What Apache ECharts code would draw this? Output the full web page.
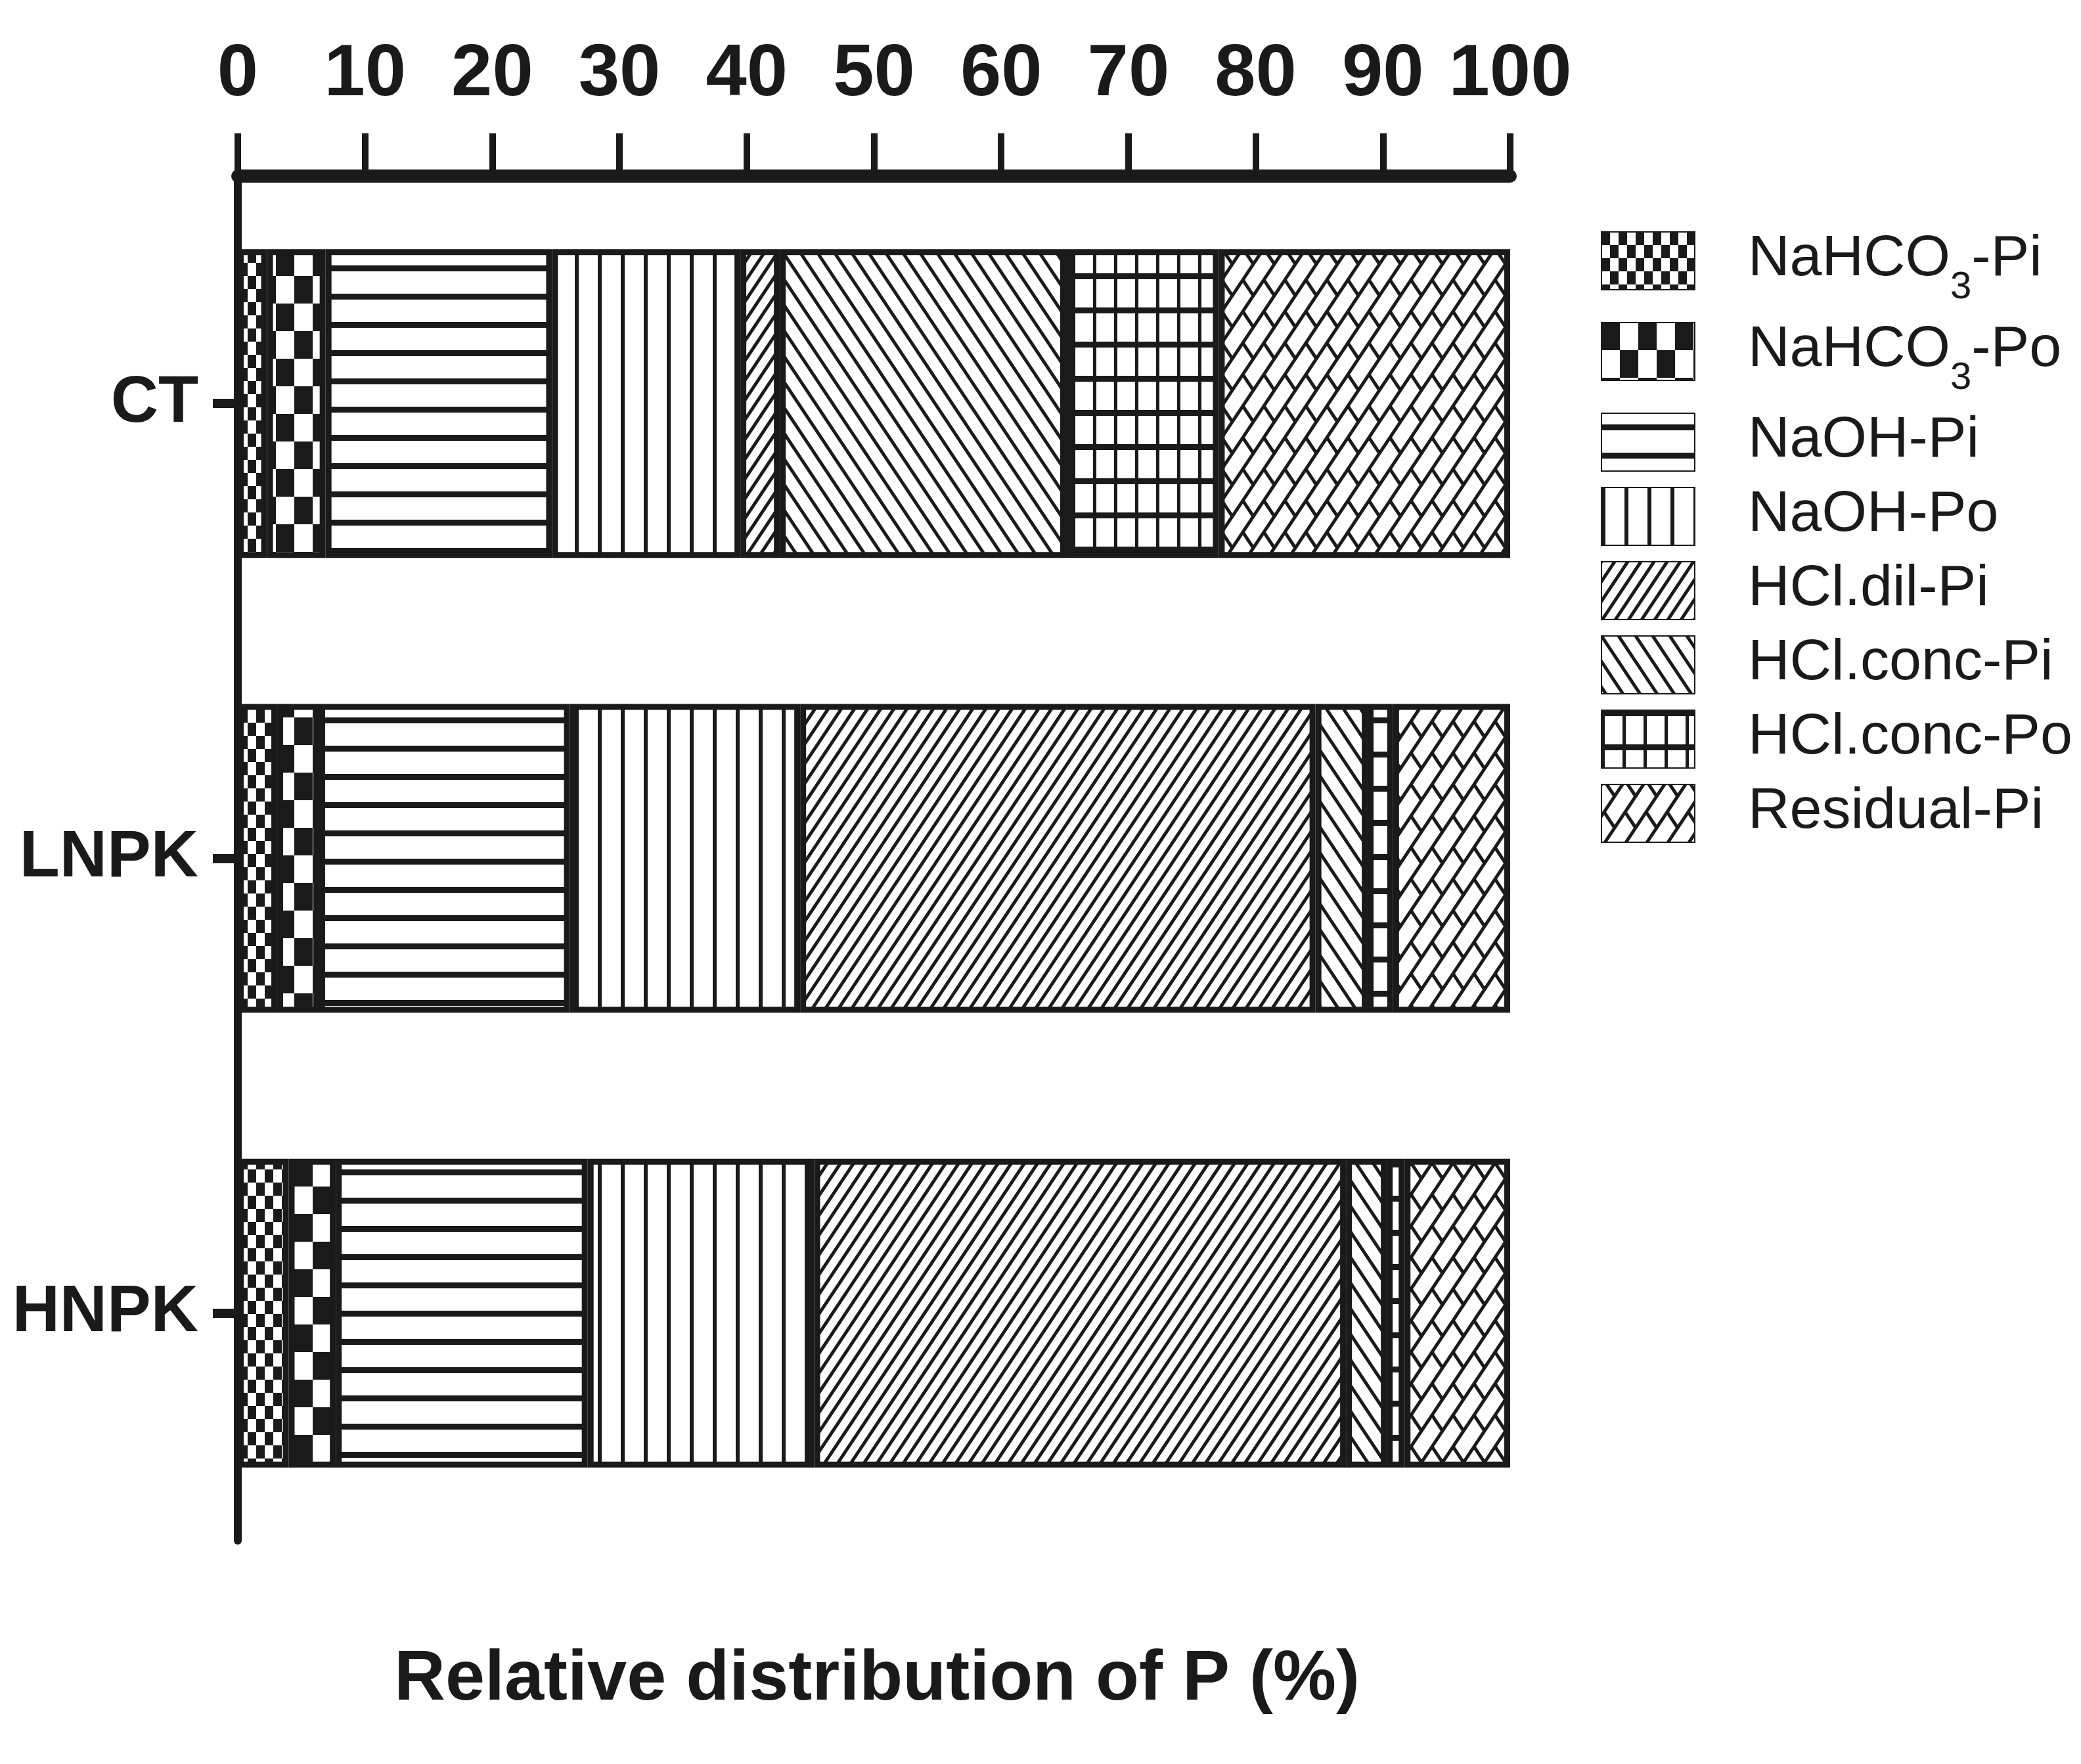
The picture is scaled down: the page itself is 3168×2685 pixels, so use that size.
<!DOCTYPE html>
<html>
<head>
<meta charset="utf-8">
<script src="https://cdn.jsdelivr.net/npm/echarts@6/dist/echarts.min.js"></script>
<style>
  html, body { margin: 0; padding: 0; background: #fff; }
  #main { width: 3168px; height: 2685px; }
</style>
</head>
<body>
<div id="main"></div>
<script>
// categories (top to bottom)
var categories = ['CT', 'LNPK', 'HNPK'];
var xTicks = [0, 10, 20, 30, 40, 50, 60, 70, 80, 90, 100];

// relative distribution of P (%) per fraction, order: CT, LNPK, HNPK
var naHCO3Pi = [2.3, 3.1, 4.0];
var naHCO3Po = [4.6, 3.3, 3.7];
var naOHPi = [17.8, 19.7, 19.8];
var naOHPo = [14.8, 18.1, 17.8];
var hclDilPi = [3.1, 40.5, 41.8];
var hclConcPi = [22.5, 4.1, 3.2];
var hclConcPo = [12.0, 2.0, 1.4];
var residualPi = [22.9, 9.2, 8.3];

var fractionNames = ['NaHCO3-Pi', 'NaHCO3-Po', 'NaOH-Pi', 'NaOH-Po',
    'HCl.dil-Pi', 'HCl.conc-Pi', 'HCl.conc-Po', 'Residual-Pi'];
var fractionData = [naHCO3Pi, naHCO3Po, naOHPi, naOHPo,
    hclDilPi, hclConcPi, hclConcPo, residualPi];

var INK = '#1a1a1a';
var FONT = "'Liberation Sans', Arial, sans-serif";

function pattern(w, h, draw) {
    var c = document.createElement('canvas');
    c.width = w;
    c.height = h;
    var ctx = c.getContext('2d');
    ctx.fillStyle = '#fff';
    ctx.fillRect(0, 0, w, h);
    ctx.fillStyle = INK;
    ctx.strokeStyle = INK;
    draw(ctx, w, h);
    return { image: c, repeat: 'repeat' };
}

function slash(ctx, w, h, lw) {
    ctx.lineWidth = lw;
    for (var k = -1; k <= 1; k++) {
        ctx.beginPath();
        ctx.moveTo(k * w - w, 2 * h);
        ctx.lineTo(k * w + 2 * w, -h);
        ctx.stroke();
    }
}

function backslash(ctx, w, h, lw) {
    ctx.lineWidth = lw;
    for (var k = -1; k <= 1; k++) {
        ctx.beginPath();
        ctx.moveTo(k * w - w, -h);
        ctx.lineTo(k * w + 2 * w, 2 * h);
        ctx.stroke();
    }
}

var patterns = [
    // small checker
    pattern(26, 40, function (ctx) {
        ctx.fillRect(0, 0, 13, 20);
        ctx.fillRect(13, 20, 13, 20);
    }),
    // big checker
    pattern(56, 84, function (ctx) {
        ctx.fillRect(0, 0, 28, 42);
        ctx.fillRect(28, 42, 28, 42);
    }),
    // horizontal lines
    pattern(40, 43, function (ctx) {
        ctx.fillRect(0, 17, 40, 9);
    }),
    // vertical lines
    pattern(35, 40, function (ctx) {
        ctx.fillRect(0, 0, 6, 40);
    }),
    // "/" hatch
    pattern(20, 30, function (ctx, w, h) {
        slash(ctx, w, h, 5);
    }),
    // "\" hatch
    pattern(26, 39, function (ctx, w, h) {
        backslash(ctx, w, h, 5);
    }),
    // grid
    pattern(32, 52, function (ctx) {
        ctx.fillRect(0, 0, 5, 52);
        ctx.fillRect(0, 0, 32, 9);
    }),
    // brick diagonal
    pattern(32, 48, function (ctx, w, h) {
        slash(ctx, w, h, 5);
        ctx.lineWidth = 5;
        for (var dy = -h; dy <= h; dy += h) {
            ctx.beginPath();
            ctx.moveTo(4, 42 + dy);
            ctx.lineTo(20, 66 + dy);
            ctx.stroke();
        }
    })
];

var series = fractionNames.map(function (name, i) {
    return {
        name: name,
        type: 'bar',
        stack: 'total',
        barWidth: 470,
        data: fractionData[i],
        itemStyle: {
            color: patterns[i],
            borderColor: INK,
            borderWidth: 9
        },
        emphasis: { disabled: true }
    };
});

var chart = echarts.init(document.getElementById('main'));
chart.setOption({
    animation: false,
    backgroundColor: '#fff',
    title: {
        text: 'Relative distribution of P (%)',
        left: 1330,
        top: 2498,
        textAlign: 'center',
        textStyle: {
            fontFamily: FONT,
            fontWeight: 'bold',
            fontSize: 108,
            color: INK
        }
    },
    legend: {
        orient: 'vertical',
        left: 2432,
        top: 346,
        icon: 'rect',
        itemWidth: 142,
        itemHeight: 88,
        itemGap: 22,
        selectedMode: false,
        data: fractionNames,
        formatter: function (name) {
            if (name.indexOf('O3') >= 0) {
                var parts = name.split('O3');
                return '{n|' + parts[0] + 'O}{sub|3}{n|' + parts[1] + '}';
            }
            return '{n|' + name + '}';
        },
        textStyle: {
            padding: [0, 0, 0, 76],
            rich: {
                n: {
                    fontFamily: FONT,
                    fontSize: 88,
                    color: INK,
                    lineHeight: 92,
                    verticalAlign: 'top'
                },
                sub: {
                    fontFamily: FONT,
                    fontSize: 58,
                    color: INK,
                    lineHeight: 58,
                    verticalAlign: 'top',
                    padding: [58, 0, 0, 0]
                }
            }
        }
    },
    grid: {
        left: 362,
        right: 869,
        top: 268,
        bottom: 340,
        outerBoundsMode: 'none'
    },
    xAxis: {
        type: 'value',
        position: 'top',
        min: 0,
        max: 100,
        interval: 10,
        splitLine: { show: false },
        axisLine: { show: true, onZero: false, lineStyle: { color: INK, width: 20 } },
        axisTick: { show: true, inside: false, length: 65, lineStyle: { color: INK, width: 10 } },
        axisLabel: {
            margin: 98,
            showMinLabel: true,
            showMaxLabel: true,
            hideOverlap: false,
            fontFamily: FONT,
            fontWeight: 'bold',
            fontSize: 112,
            color: INK,
            formatter: function (v) { return xTicks.indexOf(v) >= 0 ? String(v) : ''; }
        }
    },
    yAxis: {
        type: 'category',
        inverse: true,
        data: categories,
        axisLine: { show: true, lineStyle: { color: INK, width: 12 } },
        axisTick: { show: true, alignWithLabel: true, inside: false, length: 38, lineStyle: { color: INK, width: 14 } },
        axisLabel: {
            margin: 60,
            fontFamily: FONT,
            fontWeight: 'bold',
            fontSize: 100,
            color: INK
        }
    },
    series: series
});
</script>
</body>
</html>
